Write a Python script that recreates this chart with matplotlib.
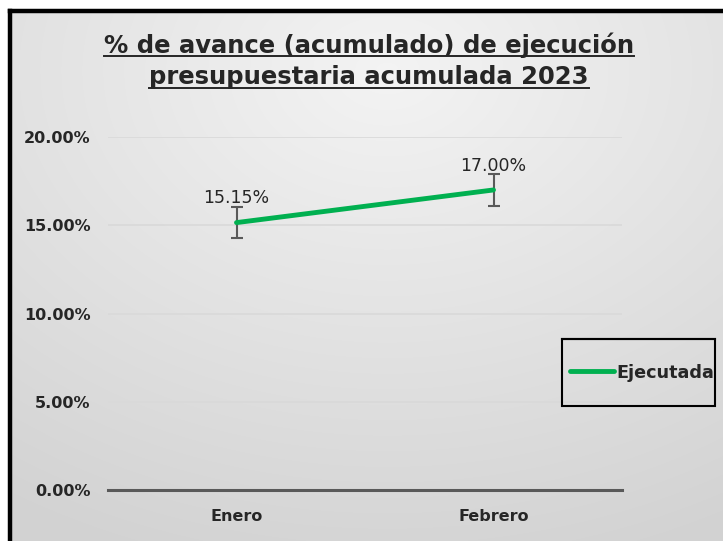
import numpy as np
import matplotlib
matplotlib.use("Agg")
import matplotlib.pyplot as plt
from matplotlib.lines import Line2D
from matplotlib.ticker import FuncFormatter, MultipleLocator

categories = ["Enero", "Febrero"]
ejecutada = [15.15, 17.00]
error = [0.9, 0.9]
labels = ["15.15%", "17.00%"]
title_lines = ["% de avance (acumulado) de ejecución", "presupuestaria acumulada 2023"]

W, H = 723, 541
fig = plt.figure(figsize=(W / 100, H / 100), dpi=100)
fig.patch.set_facecolor("white")

# background gradient panel
bg = fig.add_axes([0, 0, 1, 1], zorder=0)
bg.set_xlim(0, W)
bg.set_ylim(H, 0)
bg.axis("off")
yy, xx = np.mgrid[0:H, 0:W]
d = np.sqrt(((xx - 380) / 700.0) ** 2 + ((yy - 60) / 520.0) ** 2)
d = np.clip(d, 0, 1)
c = 0.955 - 0.13 * d
img = np.dstack([c, c, c])
bg.imshow(img, extent=(9, W + 5, H + 5, 11), aspect="auto", zorder=0)
bg.plot([9.5, 9.5], [11, H + 5], color="black", lw=3.2, zorder=2, solid_capstyle="projecting")
bg.plot([9.5, W + 5], [11, 11], color="black", lw=3.2, zorder=2, solid_capstyle="projecting")

font = "DejaVu Sans"

ax = fig.add_axes([108 / W, 1 - 490 / H, (622 - 108) / W, (490 - 137) / H], zorder=1)
ax.patch.set_alpha(0)
x = np.arange(len(categories))
ax.set_xlim(-0.5, len(categories) - 0.5)
ax.set_ylim(0, 20)
ax.yaxis.set_major_locator(MultipleLocator(5))
ax.yaxis.set_major_formatter(FuncFormatter(lambda v, p: f"{v:.2f}%"))
ax.grid(axis="y", color="#d9d9d9", lw=1.2, zorder=0)
for s in ["top", "right", "left"]:
    ax.spines[s].set_visible(False)
ax.spines["bottom"].set_color("#595959")
ax.spines["bottom"].set_linewidth(2.2)
ax.tick_params(length=0)
ax.set_xticks(x)
ax.set_xticklabels(categories)
for t in ax.get_xticklabels() + ax.get_yticklabels():
    t.set_fontfamily(font)
    t.set_fontsize(11.5)
    t.set_fontweight("bold")
    t.set_color("#262626")
ax.tick_params(axis="x", pad=14)
ax.tick_params(axis="y", pad=12.5)

ax.errorbar(x, ejecutada, yerr=error, fmt="none", ecolor="#595959", elinewidth=1.5,
            capsize=4.5, capthick=1.5, zorder=3)
ax.plot(x, ejecutada, color="#00B050", lw=3.5, label="Ejecutada", zorder=4,
        solid_capstyle="round")
for xi, yi, e, lab in zip(x, ejecutada, error, labels):
    ax.annotate(lab, (xi, yi + e), xytext=(0, -0.5), textcoords="offset points",
                ha="center", va="bottom", fontsize=12.5, fontfamily=font, color="#262626")

leg = ax.legend(loc="center left", bbox_to_anchor=(570 / W, 1 - 372.5 / H),
                bbox_transform=fig.transFigure, frameon=False,
                prop={"family": font, "size": 12.7, "weight": "bold"},
                handlelength=2.5, handletextpad=0.12, borderpad=0.0,
                borderaxespad=0)
for t in leg.get_texts():
    t.set_color("#262626")

# legend frame drawn on top of everything
lx0, lx1, ly0, ly1 = 562, 715, 339, 406
fig.add_artist(Line2D([lx0 / W, lx1 / W, lx1 / W, lx0 / W, lx0 / W, lx1 / W],
                      [1 - ly0 / H, 1 - ly0 / H, 1 - ly1 / H, 1 - ly1 / H, 1 - ly0 / H, 1 - ly0 / H],
                      transform=fig.transFigure, color="black", lw=1.5,
                      solid_joinstyle="miter", zorder=10))

# title with underline
texts = []
for i, line in enumerate(title_lines):
    yc = [45, 77][i]
    t = fig.text(369 / W, 1 - yc / H, line, ha="center", va="center", fontsize=17.5,
                 fontweight="bold", fontfamily=font, color="#262626")
    texts.append(t)
fig.canvas.draw()
r = fig.canvas.get_renderer()
for t in texts:
    bb = t.get_window_extent(renderer=r)
    yline = bb.y0 + 1.5
    fig.add_artist(Line2D([bb.x0 / W, bb.x1 / W], [yline / H, yline / H],
                          transform=fig.transFigure, color="#262626", lw=1.4))

fig.savefig("out.png", dpi=100)
